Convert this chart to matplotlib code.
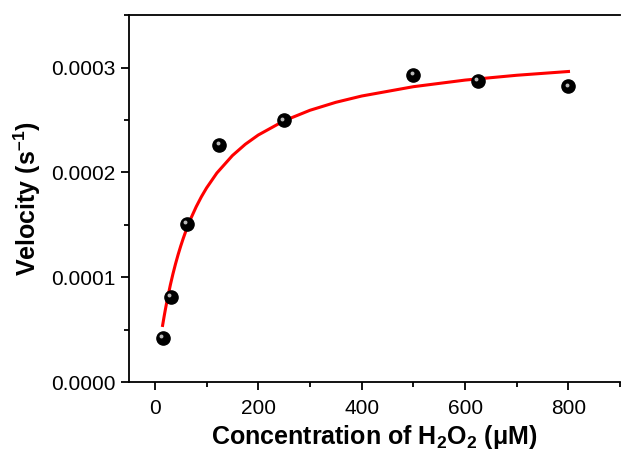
import matplotlib
matplotlib.use("Agg")
import matplotlib.pyplot as plt
import matplotlib.transforms as mtransforms
from matplotlib.ticker import MultipleLocator, FormatStrFormatter

plt.rcParams['font.family'] = ['Liberation Sans', 'DejaVu Sans']
plt.rcParams['mathtext.fontset'] = 'custom'
plt.rcParams['mathtext.rm'] = 'Liberation Sans'
plt.rcParams['mathtext.bf'] = 'Liberation Sans:bold'

# measured points
conc = [15.6, 31.25, 62.5, 125, 250, 500, 625, 800]
velocity = [0.0000419, 0.0000810, 0.000151, 0.000226, 0.0002495, 0.000293, 0.000287, 0.000282]

# fitted curve
fit_x = [15, 18, 20, 23, 25, 28, 30, 35, 40, 45, 50, 55, 60, 65, 70, 80, 90,
         100, 120, 150, 175, 200, 250, 300, 350, 400, 500, 600, 700, 800]
fit_y = [0.0000540, 0.0000627, 0.0000682, 0.0000760, 0.0000810, 0.0000879,
         0.0000926, 0.0001031, 0.0001127, 0.0001215, 0.0001296, 0.0001371,
         0.0001440, 0.0001504, 0.0001564, 0.0001672, 0.0001767, 0.0001851,
         0.0001994, 0.0002160, 0.0002268, 0.0002356, 0.0002492, 0.0002592,
         0.0002668, 0.0002728, 0.0002817, 0.0002880, 0.0002926, 0.0002962]

fig = plt.figure(figsize=(6.21, 4.57), dpi=100)
ax = fig.add_axes([0.2077, 0.164, 0.791, 0.803])

ax.plot(fit_x, fit_y, color='#ff0000', lw=2.2, zorder=2, solid_joinstyle='round')
ax.plot(conc, velocity, 'o', color='black', markersize=9.5, zorder=3)
# little highlight so the markers look like spheres
hl = mtransforms.offset_copy(ax.transData, fig=fig, x=-1.3, y=1.3, units='points')
ax.plot(conc, velocity, 'o', color='#d0d0d0', markersize=2.8, markeredgewidth=0,
        alpha=0.9, transform=hl, zorder=4)

ax.set_xlim(-50, 900)
ax.set_ylim(0, 0.00035)
ax.xaxis.set_major_locator(MultipleLocator(200))
ax.xaxis.set_minor_locator(MultipleLocator(100))
ax.yaxis.set_major_locator(MultipleLocator(0.0001))
ax.yaxis.set_minor_locator(MultipleLocator(0.00005))
ax.yaxis.set_major_formatter(FormatStrFormatter('%.4f'))
ax.set_xticks([0, 200, 400, 600, 800])

ax.spines['right'].set_visible(False)
for s in ax.spines.values():
    s.set_linewidth(1.3)
ax.tick_params(which='major', direction='out', length=6, width=1.3, labelsize=15)
ax.tick_params(which='minor', direction='out', length=3.5, width=1.3)
ax.tick_params(axis='x', pad=6)

ax.set_xlabel('Concentration of H$_\\mathbf{2}$O$_\\mathbf{2}$ (\u03bcM)', fontsize=18,
              fontweight='bold', labelpad=4)
ax.set_ylabel('Velocity (s$^{\\mathbf{\u2013}\\mathbf{1}}$)', fontsize=18,
              fontweight='bold', labelpad=6)

fig.savefig('out.png', dpi=100)
